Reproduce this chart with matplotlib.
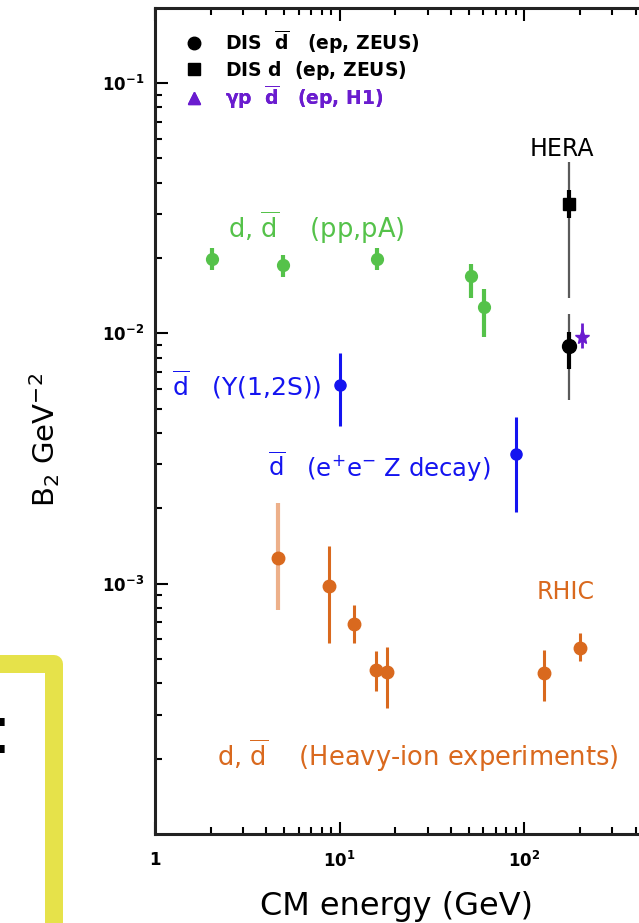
import matplotlib
matplotlib.use('Agg')
import matplotlib.pyplot as plt
import numpy as np
from matplotlib.lines import Line2D
from matplotlib.patches import Rectangle
from matplotlib.transforms import IdentityTransform
from matplotlib.ticker import FixedLocator, FixedFormatter, LogLocator, NullFormatter

plt.rcParams['font.family'] = ['DejaVu Sans']
plt.rcParams['mathtext.fontset'] = 'dejavusans'

# ---------------- data ----------------
# d, dbar (pp, pA)
pp_x = [2.03, 4.94, 16.0, 51.5, 60.8]
pp_y = [0.0199, 0.0187, 0.0199, 0.0169, 0.0128]
pp_lo = [0.0179, 0.0168, 0.0179, 0.0138, 0.0097]
pp_hi = [0.0219, 0.0205, 0.0220, 0.0190, 0.0151]

# HERA DIS (ZEUS): dbar (circle), d (square)
zeus_dbar_x = [175.0]
zeus_dbar_y = [0.00887]
zeus_dbar_tot_lo = [0.0054]
zeus_dbar_tot_hi = [0.0120]
zeus_dbar_stat_lo = [0.00724]
zeus_dbar_stat_hi = [0.0101]

zeus_d_x = [175.0]
zeus_d_y = [0.0330]
zeus_d_tot_lo = [0.0138]
zeus_d_tot_hi = [0.0485]
zeus_d_stat_lo = [0.0288]
zeus_d_stat_hi = [0.0373]

# gamma p dbar (H1)
h1_x = [205.0]
h1_y = [0.00966]
h1_lo = [0.00873]
h1_hi = [0.0110]

# dbar Upsilon(1,2S)
ups_x = [10.0]
ups_y = [0.0062]
ups_lo = [0.00425]
ups_hi = [0.00832]

# dbar e+e- Z decay
zdec_x = [90.2]
zdec_y = [0.0033]
zdec_lo = [0.00194]
zdec_hi = [0.00463]

# heavy-ion experiments
hi_x = [4.64, 8.72, 11.9, 15.8, 18.0, 128.0, 200.0]
hi_y = [0.00127, 0.000982, 0.00069, 0.000452, 0.000442, 0.000438, 0.000556]
hi_lo = [0.000785, 0.000582, 0.000582, 0.000371, 0.000319, 0.00034, 0.000492]
hi_hi = [0.00211, 0.00141, 0.000822, 0.000536, 0.000561, 0.000545, 0.000635]

x_ticks = [1, 10, 100]
x_ticklabels = [r'$\mathbf{1}$', r'$\mathbf{10^{1}}$', r'$\mathbf{10^{2}}$']
y_ticks = [1e-3, 1e-2, 1e-1]
y_ticklabels = [r'$\mathbf{10^{-3}}$', r'$\mathbf{10^{-2}}$', r'$\mathbf{10^{-1}}$']

legend_labels = [r'DIS  $\overline{\mathbf{d}}$   (ep, ZEUS)',
                 r'DIS $\mathbf{d}$  (ep, ZEUS)',
                 r'γp  $\overline{\mathbf{d}}$   (ep, H1)']

# ---------------- style ----------------
GREEN = '#55C24A'
BLUE = '#1414F0'
ORANGE = '#D9691E'
LORANGE = '#EDB08A'
PURPLE = '#6A1CCF'
GRAY = '#5a5a5a'


def err(y, lo, hi):
    y = np.asarray(y); lo = np.asarray(lo); hi = np.asarray(hi)
    return [y - lo, hi - y]


W, H = 639, 923
fig = plt.figure(figsize=(W / 100, H / 100), dpi=100)
L, R, B, T = 155, 709, 834, 8
ax = fig.add_axes([L / W, (H - B) / H, (R - L) / W, (B - T) / H])
ax.set_xscale('log')
ax.set_yscale('log')
ax.set_xlim(1, 1000)
ax.set_ylim(1e-4, 10 ** -0.7)


def fx(px):
    return (px - L) / (R - L)


def fy(py):
    return (B - py) / (B - T)


# pp, pA
ax.errorbar(pp_x, pp_y, yerr=err(pp_y, pp_lo, pp_hi), fmt='o', color=GREEN,
            ms=8.5, elinewidth=3, capsize=0, zorder=3)

# HERA
ax.errorbar(zeus_d_x, zeus_d_y, yerr=err(zeus_d_y, zeus_d_tot_lo, zeus_d_tot_hi),
            fmt='none', ecolor=GRAY, elinewidth=1.6, capsize=0, zorder=2)
ax.errorbar(zeus_d_x, zeus_d_y, yerr=err(zeus_d_y, zeus_d_stat_lo, zeus_d_stat_hi),
            fmt='s', color='black', ms=9, elinewidth=3, capsize=0, zorder=4)
ax.errorbar(zeus_dbar_x, zeus_dbar_y, yerr=err(zeus_dbar_y, zeus_dbar_tot_lo, zeus_dbar_tot_hi),
            fmt='none', ecolor=GRAY, elinewidth=1.6, capsize=0, zorder=2)
ax.errorbar(zeus_dbar_x, zeus_dbar_y, yerr=err(zeus_dbar_y, zeus_dbar_stat_lo, zeus_dbar_stat_hi),
            fmt='o', color='black', ms=10, elinewidth=3, capsize=0, zorder=4)
ax.errorbar(h1_x, h1_y, yerr=err(h1_y, h1_lo, h1_hi), fmt='*', color=PURPLE,
            ms=11, elinewidth=2, capsize=0, zorder=3)

# Upsilon & Z
ax.errorbar(ups_x, ups_y, yerr=err(ups_y, ups_lo, ups_hi), fmt='o', color=BLUE,
            ms=8, elinewidth=2.2, capsize=0, zorder=3)
ax.errorbar(zdec_x, zdec_y, yerr=err(zdec_y, zdec_lo, zdec_hi), fmt='o', color=BLUE,
            ms=8, elinewidth=2.2, capsize=0, zorder=3)

# heavy ion
ax.errorbar(hi_x[:1], hi_y[:1], yerr=err(hi_y[:1], hi_lo[:1], hi_hi[:1]), fmt='o',
            color=ORANGE, ecolor=LORANGE, ms=9, elinewidth=3, capsize=0, zorder=3)
ax.errorbar(hi_x[1:], hi_y[1:], yerr=err(hi_y[1:], hi_lo[1:], hi_hi[1:]), fmt='o',
            color=ORANGE, ms=9, elinewidth=2.2, capsize=0, zorder=3)

# ---------------- annotations ----------------
ax.text(fx(228), fy(228), r'd, $\overline{\mathrm{d}}$    (pp,pA)', color=GREEN,
        fontsize=18.5, ha='left', va='center', transform=ax.transAxes)
ax.text(fx(562), fy(149), 'HERA', color='black', fontsize=17,
        ha='center', va='center', transform=ax.transAxes)
ax.text(fx(172), fy(385), r'$\overline{\mathrm{d}}$   ($\Upsilon$(1,2S))', color=BLUE,
        fontsize=18, ha='left', va='center', transform=ax.transAxes)
ax.text(fx(268), fy(467), r'$\overline{\mathrm{d}}$   (e$^{+}$e$^{-}$ Z decay)', color=BLUE,
        fontsize=17.5, ha='left', va='center', transform=ax.transAxes)
ax.text(fx(566), fy(592), 'RHIC', color=ORANGE, fontsize=17,
        ha='center', va='center', transform=ax.transAxes)
ax.text(fx(217), fy(756), r'd, $\overline{\mathrm{d}}$    (Heavy-ion experiments)', color=ORANGE,
        fontsize=18.5, ha='left', va='center', transform=ax.transAxes)

# legend: one row per entry so the rows are evenly spaced
legend_handles = [Line2D([], [], ls='none', marker='o', color='black', ms=9),
                  Line2D([], [], ls='none', marker='s', color='black', ms=8),
                  Line2D([], [], ls='none', marker='^', color=PURPLE, ms=9)]
legend_colors = ['black', 'black', PURPLE]
legend_rows_px = [42, 70, 97]
for hnd, lab, col, rowy in zip(legend_handles, legend_labels, legend_colors, legend_rows_px):
    lg = ax.legend([hnd], [lab], loc='center left', bbox_to_anchor=(fx(179.5), fy(rowy)),
                   frameon=False, handletextpad=0.91, handlelength=1.5,
                   borderaxespad=0, borderpad=0,
                   prop={'weight': 'bold', 'size': 13.5}, labelcolor=[col])
    ax.add_artist(lg)

# ---------------- axes styling ----------------
ax.xaxis.set_major_locator(FixedLocator(x_ticks))
ax.xaxis.set_major_formatter(FixedFormatter(x_ticklabels))
ax.yaxis.set_major_locator(FixedLocator(y_ticks))
ax.yaxis.set_major_formatter(FixedFormatter(y_ticklabels))
ax.xaxis.set_minor_locator(LogLocator(base=10, subs=np.arange(2, 10)))
ax.yaxis.set_minor_locator(LogLocator(base=10, subs=np.arange(2, 10)))
ax.xaxis.set_minor_formatter(NullFormatter())
ax.yaxis.set_minor_formatter(NullFormatter())
ax.tick_params(which='both', direction='in', top=True, right=True, width=1.5, colors='black')
ax.tick_params(which='major', length=9, labelsize=12)
ax.tick_params(which='minor', length=5)
ax.tick_params(axis='y', which='major', pad=8)
ax.tick_params(axis='x', which='major', pad=12)
for s in ax.spines.values():
    s.set_linewidth(2.2)
    s.set_color('#222222')

fig.text(397 / W, 1 - 906 / H, 'CM energy (GeV)', fontsize=23, ha='center', va='center')
fig.text(45 / W, 1 - 440 / H, r'B$_2$ GeV$^{-2}$', fontsize=21, rotation=90,
         ha='center', va='center')

# yellow frame (partially visible) and cut-off text at far left
fig.add_artist(Rectangle((-200, -50), 53.5 + 200, (H - 664) + 50, fill=False,
                         edgecolor='#E6E24A', linewidth=18 * 72 / 100, joinstyle='round',
                         transform=IdentityTransform()))
fig.text(11.5 / W, 1 - 753 / H, ':', fontsize=48, ha='right', va='baseline', color='black')

fig.savefig('out.png', dpi=100)
